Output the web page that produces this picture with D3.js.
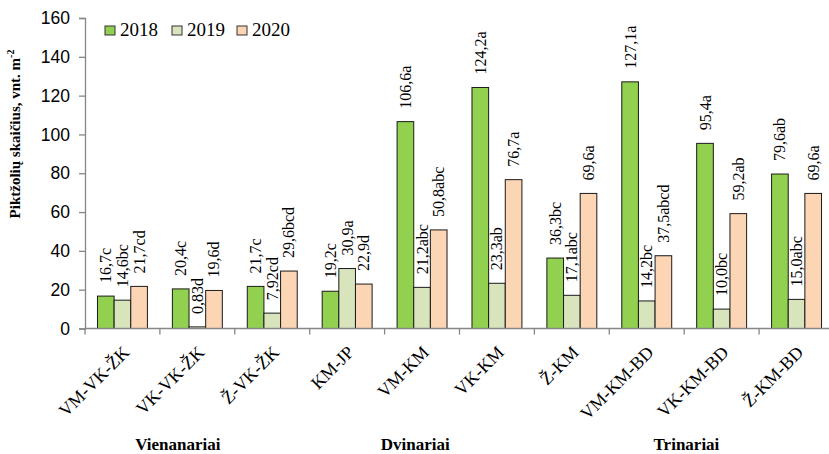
<!DOCTYPE html>
<html>
<head>
<meta charset="utf-8">
<script src="https://cdn.jsdelivr.net/npm/d3@7"></script>
<style>
  html, body { margin: 0; padding: 0; background: #fff; }
  svg { display: block; }
</style>
</head>
<body>
<svg id="chart" width="829" height="454"></svg>
<script>
// Weed counts per treatment, three seasons
const categories = ["VM-VK-ŽK", "VK-VK-ŽK", "Ž-VK-ŽK", "KM-JP", "VM-KM", "VK-KM", "Ž-KM", "VM-KM-BD", "VK-KM-BD", "Ž-KM-BD"];
const years = ["2018", "2019", "2020"];
const values2018 = [16.7, 20.4, 21.7, 19.2, 106.6, 124.2, 36.3, 127.1, 95.4, 79.6];
const values2019 = [14.6, 0.83, 7.92, 30.9, 21.2, 23.3, 17.1, 14.2, 10.0, 15.0];
const values2020 = [21.7, 19.6, 29.6, 22.9, 50.8, 76.7, 69.6, 37.5, 59.2, 69.6];
const labels2018 = ["16,7c", "20,4c", "21,7c", "19,2c", "106,6a", "124,2a", "36,3bc", "127,1a", "95,4a", "79,6ab"];
const labels2019 = ["14,6bc", "0,83d", "7,92cd", "30,9a", "21,2abc", "23,3ab", "17,1abc", "14,2bc", "10,0bc", "15,0abc"];
const labels2020 = ["21,7cd", "19,6d", "29,6bcd", "22,9d", "50,8abc", "76,7a", "69,6a", "37,5abcd", "59,2ab", "69,6a"];
const yTicks = [0, 20, 40, 60, 80, 100, 120, 140, 160];
const groupNames = ["Vienanariai", "Dvinariai", "Trinariai"];
const colors = ["#92D050", "#D8E4BC", "#FCD5B5"];

const seriesValues = [values2018, values2019, values2020];
const seriesLabels = [labels2018, labels2019, labels2020];

const svg = d3.select("#chart");
const serif = "'Liberation Serif', 'Times New Roman', serif";
const sans = "'Liberation Sans', Arial, sans-serif";

const plot = { left: 85, right: 834, top: 18, bottom: 328.5 };

const x = d3.scaleBand().domain(categories).range([plot.left, plot.right]).paddingInner(0).paddingOuter(0);
const xs = d3.scaleBand().domain(years).range([0, x.bandwidth()]).paddingInner(0).paddingOuter(0.75);
const y = d3.scaleLinear().domain([0, 160]).range([plot.bottom, plot.top]);

// Bars
years.forEach((yr, si) => {
  const g = svg.append("g");
  g.selectAll("rect")
    .data(categories)
    .join("rect")
    .attr("x", c => x(c) + xs(yr))
    .attr("y", (c, i) => y(seriesValues[si][i]))
    .attr("width", xs.bandwidth())
    .attr("height", (c, i) => y(0) - y(seriesValues[si][i]))
    .attr("fill", colors[si])
    .attr("stroke", "#1a1a1a")
    .attr("stroke-width", 1);

  // value labels above each bar, rotated
  g.selectAll("text")
    .data(categories)
    .join("text")
    .attr("transform", (c, i) => {
      const cx = x(c) + xs(yr) + xs.bandwidth() / 2 + 5.5;
      const cy = y(seriesValues[si][i]) - 13;
      return `translate(${cx},${cy}) rotate(-90)`;
    })
    .attr("font-family", serif)
    .attr("font-size", 16)
    .attr("fill", "#000")
    .text((c, i) => seriesLabels[si][i]);
});

// Y axis
const yAxis = d3.axisLeft(y).tickValues(yTicks).tickSize(6).tickPadding(9);
const yg = svg.append("g").attr("transform", `translate(${plot.left},0)`).call(yAxis);
yg.select(".domain").attr("stroke", "#868686").attr("stroke-width", 1.3);
yg.selectAll(".tick line").attr("stroke", "#868686").attr("stroke-width", 1.3);
yg.selectAll(".tick text").attr("font-family", sans).attr("font-size", 17.5).attr("fill", "#000");

// X axis with category boundary ticks
const xg = svg.append("g").attr("transform", `translate(0,${plot.bottom})`);
xg.append("line")
  .attr("x1", plot.left).attr("x2", plot.right)
  .attr("stroke", "#868686").attr("stroke-width", 1.3);
xg.selectAll("line.tk")
  .data(categories)
  .join("line")
  .attr("class", "tk")
  .attr("x1", c => x(c)).attr("x2", c => x(c))
  .attr("y1", 0).attr("y2", 6)
  .attr("stroke", "#868686").attr("stroke-width", 1.3);

// Category labels, slanted
svg.append("g").selectAll("text")
  .data(categories)
  .join("text")
  .attr("transform", c => `translate(${x(c) + x.bandwidth() / 2 + 8},${plot.bottom + 25}) rotate(-45)`)
  .attr("text-anchor", "end")
  .attr("font-family", serif)
  .attr("font-size", 18)
  .attr("fill", "#000")
  .text(c => c);

// Group captions under the category labels
const groupAt = [1.24, 4.41, 8.03];
svg.append("g").selectAll("text")
  .data(groupNames)
  .join("text")
  .attr("x", (d, i) => plot.left + x.step() * groupAt[i])
  .attr("y", 450)
  .attr("text-anchor", "middle")
  .attr("font-family", serif)
  .attr("font-weight", "bold")
  .attr("font-size", 17)
  .attr("fill", "#000")
  .text(d => d);

// Y axis title with superscript
const yt = svg.append("text")
  .attr("transform", `translate(20,134) rotate(-90)`)
  .attr("text-anchor", "middle")
  .attr("font-family", serif)
  .attr("font-weight", "bold")
  .attr("font-size", 15)
  .attr("fill", "#000");
yt.append("tspan").text("Piktžolių skaičius, vnt. m");
yt.append("tspan").attr("font-size", 10).attr("dy", -6).text("-2");

// Legend
const legendX = [105, 172, 237];
const lg = svg.append("g");
years.forEach((yr, i) => {
  lg.append("rect")
    .attr("x", legendX[i]).attr("y", 26)
    .attr("width", 10).attr("height", 9)
    .attr("fill", colors[i])
    .attr("stroke", "#333").attr("stroke-width", 1);
  lg.append("text")
    .attr("x", legendX[i] + 15).attr("y", 36)
    .attr("font-family", serif)
    .attr("font-size", 19)
    .attr("fill", "#000")
    .text(yr);
});
</script>
</body>
</html>
